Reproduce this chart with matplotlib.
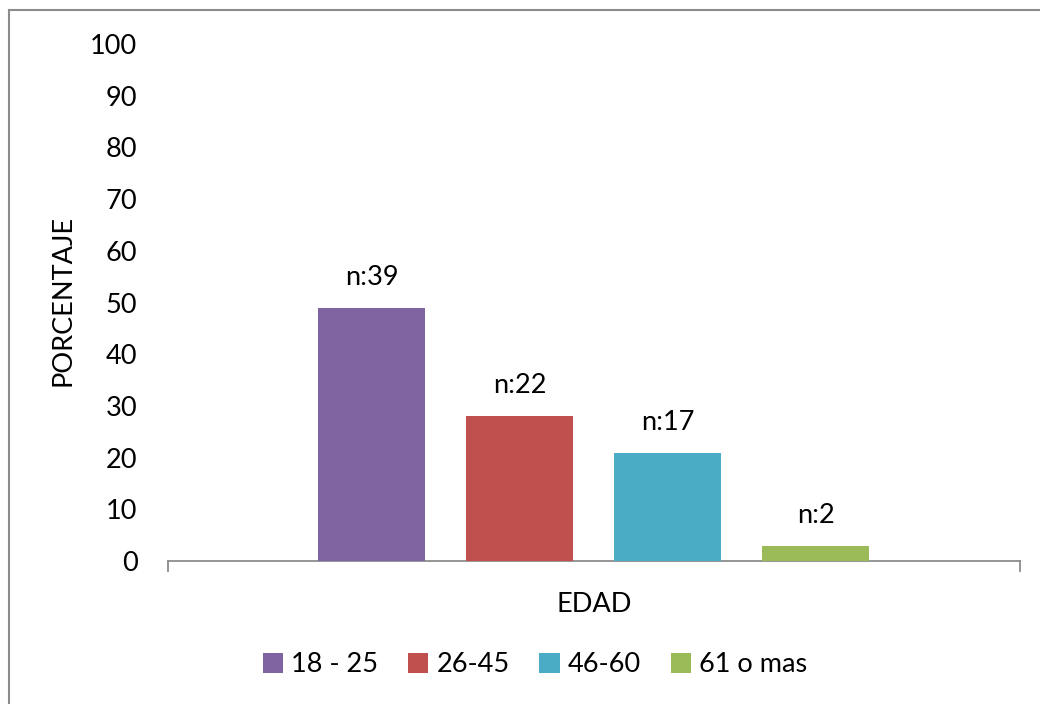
import matplotlib
matplotlib.use("Agg")
import matplotlib.pyplot as plt
from matplotlib.patches import Patch
from matplotlib.lines import Line2D

plt.rcParams['font.family'] = ['Lato', 'DejaVu Sans']

# Age groups, share of respondents (%) and counts
groups = ["18 - 25", "26-45", "46-60", "61 o mas"]
percent = [48.9, 28.0, 20.9, 2.9]
counts = ["n:39", "n:22", "n:17", "n:2"]
colors = ["#8064A2", "#C0504D", "#4BACC6", "#9BBB59"]
yticks = [0, 10, 20, 30, 40, 50, 60, 70, 80, 90, 100]

FS = 19.5

fig = plt.figure(figsize=(10.4, 7.04), dpi=100)
ax = fig.add_axes([0.1615, 0.2031, 0.8193, 0.7344])

xpos = list(range(len(groups)))
bars = ax.bar(xpos, percent, width=0.723, color=colors, zorder=3)
for b, lab in zip(bars, counts):
    ax.annotate(lab, (b.get_x() + b.get_width() / 2, b.get_height()),
                xytext=(0, 13), textcoords="offset points",
                ha="center", va="bottom", fontsize=FS)

ax.set_xlim(-1.375, 4.38)
ax.set_ylim(0, 100)
ax.set_yticks(yticks)
ax.set_yticklabels([str(v) for v in yticks], fontsize=FS)
ax.tick_params(axis="y", length=0, pad=22)
ax.set_xticks([])
for s in ["left", "right", "top"]:
    ax.spines[s].set_visible(False)
ax.spines["bottom"].set_color("#8c8c8c")
ax.spines["bottom"].set_linewidth(1.3)

# End ticks of the category axis
for xe in ax.get_xlim():
    ax.add_line(Line2D([xe, xe], [0, -2], color="#8c8c8c", lw=1.3,
                       clip_on=False, transform=ax.transData))

fig.text(63 / 1040, 1 - 300 / 704, "PORCENTAJE", rotation=90,
         ha="center", va="center", fontsize=FS)
fig.text(594 / 1040, 1 - 604 / 704, "EDAD", ha="center", va="center",
         fontsize=FS)

handles = [Patch(facecolor=c, edgecolor="none") for c in colors]
fig.legend(handles, groups, loc="center", bbox_to_anchor=(535 / 1040, 1 - 665 / 704),
           ncol=4, frameon=False, fontsize=FS, handlelength=0.75,
           handleheight=0.75, handletextpad=0.3, columnspacing=1.1)

# Chart frame
fig.add_artist(Line2D([9 / 1040, 9 / 1040], [0, 1 - 10 / 704],
                      transform=fig.transFigure, color="#8c8c8c", lw=1.5))
fig.add_artist(Line2D([9 / 1040, 1], [1 - 10 / 704, 1 - 10 / 704],
                      transform=fig.transFigure, color="#8c8c8c", lw=1.5))

fig.savefig("out.png", dpi=100, facecolor="white")
